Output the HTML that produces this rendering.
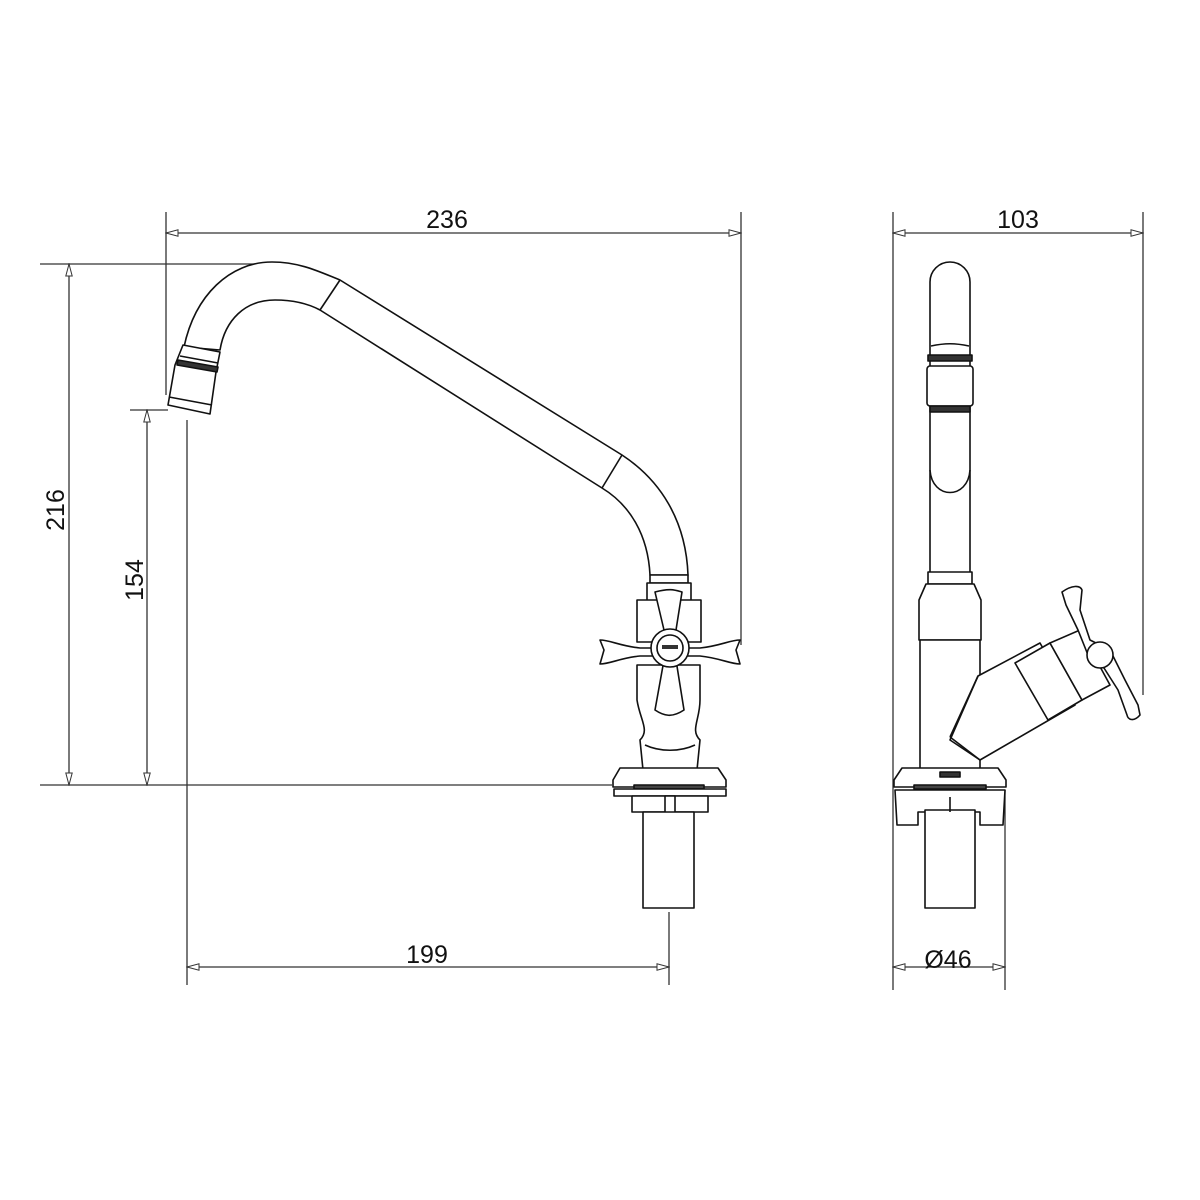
<!DOCTYPE html>
<html><head><meta charset="utf-8"><style>html,body{margin:0;padding:0;background:#fff}svg{display:block}</style></head>
<body>
<svg width="1200" height="1200" viewBox="0 0 1200 1200" xmlns="http://www.w3.org/2000/svg">
<defs>
<marker id="a" markerWidth="14" markerHeight="8" refX="13" refY="4" orient="auto-start-reverse" markerUnits="userSpaceOnUse">
<path d="M13,4 L1,0.8 L1,7.2 Z" fill="#fff" stroke="#333" stroke-width="1"/>
</marker>
</defs>
<g stroke="#333" stroke-width="1.3" fill="none">
<line x1="166" y1="233" x2="741" y2="233" marker-start="url(#a)" marker-end="url(#a)"/>
<line x1="166" y1="212" x2="166" y2="395"/>
<line x1="741" y1="212" x2="741" y2="645"/>
<line x1="69" y1="264" x2="69" y2="785" marker-start="url(#a)" marker-end="url(#a)"/>
<line x1="40" y1="264" x2="272" y2="264"/>
<line x1="40" y1="785" x2="612" y2="785"/>
<line x1="147" y1="410" x2="147" y2="785" marker-start="url(#a)" marker-end="url(#a)"/>
<line x1="130" y1="410" x2="168" y2="410"/>
<line x1="187" y1="967" x2="669" y2="967" marker-start="url(#a)" marker-end="url(#a)"/>
<line x1="187" y1="420" x2="187" y2="985"/>
<line x1="669" y1="912" x2="669" y2="985"/>
<line x1="893" y1="233" x2="1143" y2="233" marker-start="url(#a)" marker-end="url(#a)"/>
<line x1="893" y1="212" x2="893" y2="990"/>
<line x1="1143" y1="212" x2="1143" y2="695"/>
<line x1="893" y1="967" x2="1005" y2="967" marker-start="url(#a)" marker-end="url(#a)"/>
<line x1="1005" y1="790" x2="1005" y2="990"/>
</g>
<g font-family="Liberation Sans, sans-serif" font-size="25" fill="#111" text-anchor="middle">
<text x="447" y="228">236</text>
<text x="1018" y="228">103</text>
<text x="427" y="963">199</text>
<text x="948" y="968">Ø46</text>
<text transform="translate(64,510) rotate(-90)">216</text>
<text transform="translate(143,580) rotate(-90)">154</text>
</g>
<g stroke="#111" stroke-width="1.6" fill="#fff" stroke-linejoin="round">
<path d="M184,347 C195,295 230,262 272,262 C300,262 320,272 340,280 L622,455 C660,480 686,520 688,575 L650,575 C648,535 630,505 602,488 L320,310 C305,302 290,300 275,300 C245,300 225,320 220,350 Z"/>
<line x1="340" y1="280" x2="320" y2="310"/>
<line x1="622" y1="455" x2="602" y2="488"/>
<path d="M183,345 L220,352 L216,372 L210,414 L168,405 L175,365 Z"/>
<line x1="180" y1="356" x2="218" y2="363"/>
<path d="M178,360 L218,367 L217,372 L177,365 Z" fill="#333"/>
<line x1="169" y1="397" x2="212" y2="405"/>
<rect x="650" y="575" width="38" height="8"/>
<rect x="647" y="583" width="44" height="18"/>
<path d="M637,665 L637,700 C640,720 650,730 640,740 L643,770 L697,770 L700,740 C690,730 700,720 700,700 L700,665 Z"/>
<path d="M645,745 C660,752 680,752 695,745" fill="none"/>
<rect x="637" y="600" width="64" height="42"/>
<path d="M600,640 L604,650 L600,664 C610,664 620,658 640,656 L700,656 C720,658 730,664 740,664 L736,650 L740,640 C730,640 720,646 700,648 L640,648 C620,646 610,640 600,640 Z"/>
<path d="M655,592 C670,588 675,590 682,592 L676,630 L676,660 L684,710 C672,718 664,716 655,710 L664,660 L664,630 Z"/>
<circle cx="670" cy="648" r="19"/>
<circle cx="670" cy="648" r="13"/>
<rect x="662" y="645" width="16" height="4" fill="#333" stroke="none"/>
<path d="M620,768 L718,768 L726,780 L726,787 L613,787 L613,780 Z"/>
<rect x="634" y="785" width="70" height="4" fill="#444"/>
<rect x="614" y="789" width="112" height="7"/>
<rect x="632" y="796" width="76" height="16"/>
<rect x="665" y="796" width="10" height="30"/>
<rect x="643" y="812" width="51" height="96"/>
</g>
<g stroke="#111" stroke-width="1.6" fill="#fff" stroke-linejoin="round">
<path d="M930,575 L930,282 A20,20 0 0 1 970,282 L970,575 Z"/>
<path d="M930,470 C932,500 968,500 970,470" fill="none"/>
<path d="M931,346 C945,343 955,343 969,346" fill="none"/>
<rect x="928" y="355" width="44" height="6" fill="#333"/>
<rect x="927" y="366" width="46" height="40" rx="3"/>
<rect x="930" y="406" width="40" height="6" fill="#333"/>
<rect x="928" y="572" width="44" height="12"/>
<path d="M926,584 L974,584 L981,600 L981,640 L919,640 L919,600 Z"/>
<rect x="920" y="640" width="60" height="130"/>
<path d="M978,676 L1040,643 L1075,705 L980,760 L950,740 Z"/>
<line x1="978" y1="676" x2="950" y2="737"/>
<line x1="950" y1="737" x2="980" y2="760"/>
<path d="M1015,663 L1050,643 L1082,700 L1048,720 Z"/>
<path d="M1050,643 L1080,630 L1110,685 L1082,700 Z"/>
<path d="M1062,592 C1072,585 1080,585 1082,590 L1080,610 L1090,640 L1110,650 L1125,680 L1138,705 L1140,715 C1134,722 1128,720 1127,715 L1118,690 L1104,668 L1090,660 L1078,630 L1066,605 Z"/>
<circle cx="1100" cy="655" r="13"/>
<path d="M902,768 L998,768 L1006,780 L1006,787 L894,787 L894,780 Z"/>
<rect x="940" y="772" width="20" height="5" fill="#333"/>
<rect x="914" y="785" width="72" height="4" fill="#444"/>
<path d="M895,790 L1005,790 L1003,825 L980,825 L980,812 L918,812 L918,825 L897,825 Z"/>
<rect x="925" y="810" width="50" height="98"/>
<line x1="950" y1="797" x2="950" y2="812"/>
</g>
</svg>
</body></html>
